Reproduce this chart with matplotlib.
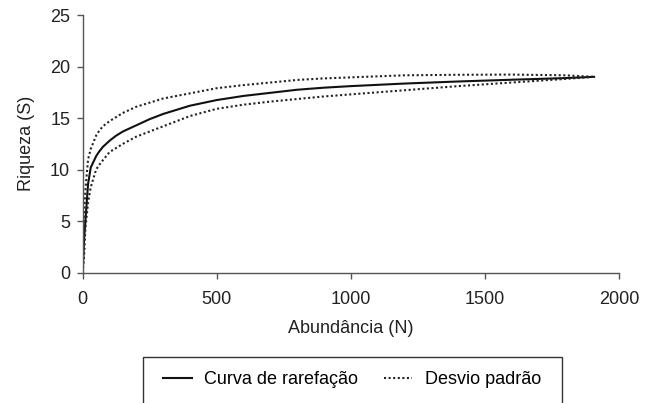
import matplotlib
matplotlib.use("Agg")
import matplotlib.pyplot as plt
from matplotlib.patches import Rectangle

plt.rcParams['font.family'] = ['Liberation Sans', 'DejaVu Sans']
plt.rcParams['font.size'] = 13

# abundance (N) grid
abund = [0, 5, 10, 20, 30, 50, 60, 75, 100, 125, 150, 200, 250, 300, 400, 500,
         600, 700, 800, 900, 1000, 1200, 1400, 1600, 1800, 1907]
# rarefaction curve
rich = [0, 3.2, 5.0, 8.6, 10.2, 11.3, 11.7, 12.2, 12.8, 13.3, 13.7, 14.3, 14.9,
        15.4, 16.2, 16.75, 17.15, 17.45, 17.75, 17.95, 18.1, 18.35, 18.55,
        18.72, 18.88, 19.0]
# upper / lower standard deviation
rich_up = [0, 5.5, 8.0, 11.0, 12.0, 13.3, 13.7, 14.2, 14.7, 15.1, 15.5, 16.1,
           16.5, 16.9, 17.4, 17.9, 18.2, 18.45, 18.7, 18.85, 18.95, 19.15,
           19.2, 19.22, 19.15, 19.0]
rich_lo = [0, 1.5, 4.3, 6.8, 8.3, 10.0, 10.4, 10.9, 11.7, 12.1, 12.5, 13.2,
           13.7, 14.2, 15.2, 15.9, 16.3, 16.6, 16.85, 17.1, 17.3, 17.7, 18.1,
           18.45, 18.8, 19.0]

xticks = [0, 500, 1000, 1500, 2000]
yticks = [0, 5, 10, 15, 20, 25]

W, H = 654, 403
fig = plt.figure(figsize=(W / 100, H / 100), dpi=100)
ax = fig.add_axes([82.7 / W, 1 - 272.7 / H, (619 - 82.7) / W, (272.7 - 15) / H])

ax.plot(abund, rich, color='#111111', lw=1.5, label='Curva de rarefação')
ax.plot(abund, rich_up, color='#222222', lw=1.5, ls=(0, (1, 1.2)), label='Desvio padrão')
ax.plot(abund, rich_lo, color='#222222', lw=1.5, ls=(0, (1, 1.2)))

ax.set_xlim(0, 2000)
ax.set_ylim(0, 25)
ax.set_xticks(xticks)
ax.set_yticks(yticks)
for s in ['top', 'right']:
    ax.spines[s].set_visible(False)
for s in ['left', 'bottom']:
    ax.spines[s].set_color('#555555')
    ax.spines[s].set_linewidth(1.0)
ax.tick_params(direction='out', length=4, width=1, color='#555555',
               labelcolor='#222222', labelsize=13, pad=5)
ax.tick_params(axis='x', pad=9)
ax.set_xlabel('Abundância (N)', fontsize=13, color='#222222', labelpad=9)
ax.set_ylabel('Riqueza (S)', fontsize=13, color='#222222', labelpad=11)

# legend box (runs off the bottom of the figure like the original)
box = Rectangle((142.7 / W, -30 / H), (561.7 - 142.7) / W, (H - 356.7 + 30) / H,
                transform=fig.transFigure, fill=False, edgecolor='#333333',
                lw=1.0, clip_on=False)
fig.patches.append(box)
fig.legend(loc='center', bbox_to_anchor=(352 / W, 1 - 380 / H), ncol=2,
           frameon=False, fontsize=13, handlelength=1.6, handletextpad=0.7,
           columnspacing=1.4)

fig.savefig('out.png', dpi=100)
